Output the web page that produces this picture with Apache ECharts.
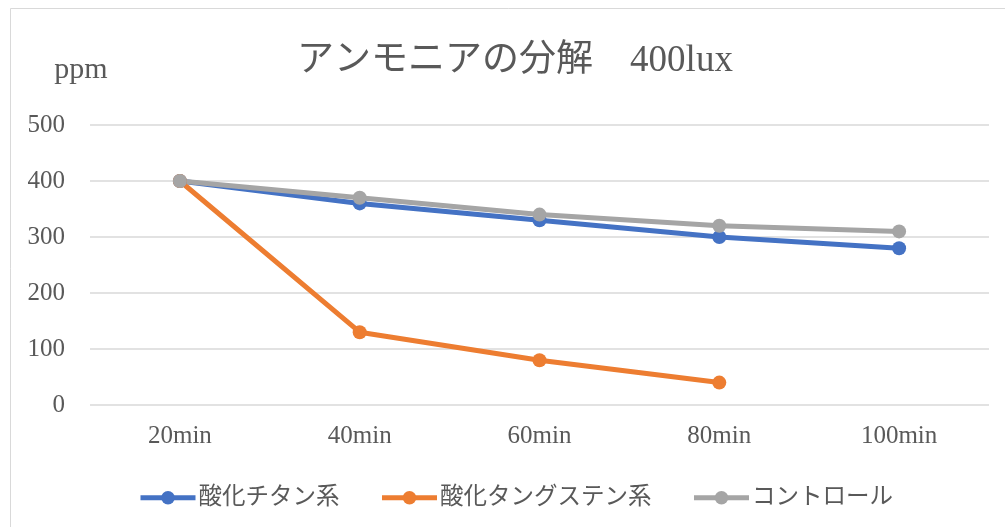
<!DOCTYPE html>
<html>
<head>
<meta charset="utf-8">
<script src="https://cdn.jsdelivr.net/npm/echarts@6/dist/echarts.min.js"></script>
<style>
  html, body { margin: 0; padding: 0; background: #fff; }
  #chart { width: 1005px; height: 527px; }
</style>
</head>
<body>
<div id="chart"></div>
<script>
// Ammonia decomposition at 400 lux (ppm over time)
const categories = ['20min', '40min', '60min', '80min', '100min'];
const titanium = [400, 360, 330, 300, 280];
const tungsten = [400, 130, 80, 40];
const control = [400, 370, 340, 320, 310];
const seriesNames = ['酸化チタン系', '酸化タングステン系', 'コントロール'];
const seriesColors = ['#4472c4', '#ed7d31', '#a5a5a5'];

const FONT = '"Liberation Serif", "DejaVu Serif", "Noto Sans CJK JP", serif';
const TEXT = '#595959';

const chart = echarts.init(document.getElementById('chart'));

function lineSeries(name, data, color) {
  return {
    name: name,
    type: 'line',
    data: data,
    symbol: 'circle',
    symbolSize: 14,
    lineStyle: { width: 5, color: color },
    itemStyle: { color: color },
    emphasis: { disabled: true },
    animation: false
  };
}

chart.setOption({
  backgroundColor: '#fff',
  animation: false,
  graphic: [{
    type: 'rect',
    shape: { x: 10.5, y: 8.5, width: 1010, height: 540 },
    style: { fill: 'none', stroke: '#d9d9d9', lineWidth: 1 },
    silent: true
  }],
  title: {
    text: 'アンモニアの分解　400lux',
    left: 510,
    textAlign: 'center',
    top: 38,
    textStyle: { fontFamily: FONT, fontSize: 37, fontWeight: 'normal', color: TEXT }
  },
  legend: {
    top: 481,
    left: 133,
    itemWidth: 55,
    itemHeight: 17,
    itemGap: 40,
    lineStyle: { width: 5 },
    textStyle: { fontFamily: FONT, fontSize: 23.5, color: TEXT, padding: [0, 0, 0, -2] },
    data: seriesNames
  },
  grid: { left: 90, right: 16, top: 125, bottom: 122, containLabel: false },
  xAxis: {
    type: 'category',
    data: categories,
    boundaryGap: true,
    axisLine: { show: false },
    axisTick: { show: false },
    axisLabel: { fontFamily: FONT, fontSize: 25, color: TEXT, margin: 19 }
  },
  yAxis: {
    type: 'value',
    min: 0,
    max: 500,
    interval: 100,
    name: 'ppm',
    nameLocation: 'end',
    nameGap: 40,
    nameTextStyle: { fontFamily: FONT, fontSize: 30, color: TEXT, align: 'center', padding: [0, 18, 0, 0] },
    axisLine: { show: false },
    axisTick: { show: false },
    axisLabel: { fontFamily: FONT, fontSize: 25, color: TEXT, margin: 25 },
    splitLine: { lineStyle: { color: '#d9d9d9', width: 1.5 } }
  },
  series: [
    lineSeries(seriesNames[0], titanium, seriesColors[0]),
    lineSeries(seriesNames[1], tungsten, seriesColors[1]),
    lineSeries(seriesNames[2], control, seriesColors[2])
  ]
});
</script>
</body>
</html>
